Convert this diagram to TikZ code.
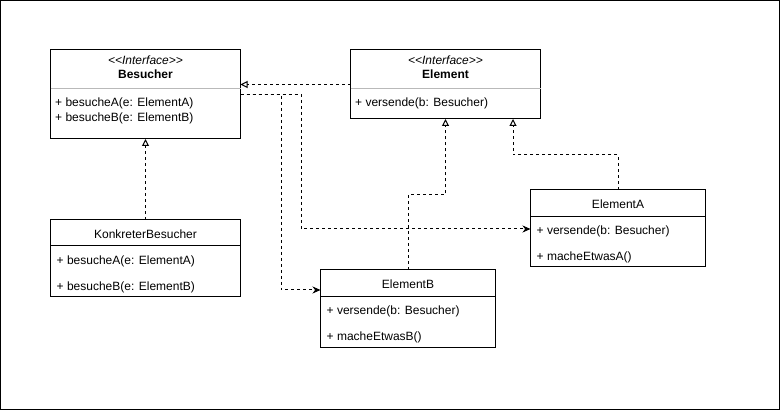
\documentclass[tikz,border=0pt]{standalone}
\usepackage{fontspec}
\setmainfont{Liberation Sans}
\usetikzlibrary{arrows.meta, positioning}
\tikzset{
  cls/.style    = {draw, line width=1pt, anchor=north west, inner sep=0pt,
                   outer sep=0pt},
  cwide/.style  = {cls, minimum width=190pt},
  cnarrow/.style= {cls, minimum width=175pt, minimum height=77pt},
  lbl/.style    = {inner sep=0pt, font=\fontsize{12}{14}\selectfont},
  ttl/.style    = {lbl, anchor=base},
  bttl/.style   = {ttl, font=\fontsize{12}{14}\selectfont\bfseries},
  stereo/.style = {ttl, font=\fontsize{12}{14}\selectfont\itshape},
  meth/.style   = {lbl, anchor=base west},
  gline/.style  = {line width=1pt, gray!55},
  bline/.style  = {line width=1pt},
  impl/.style   = {-{Triangle[open, length=7pt, width=7pt]}, line width=1pt,
                   dash pattern=on 3pt off 3pt},
  dep/.style    = {-{Stealth[length=8pt, width=7pt]}, line width=1pt,
                   dash pattern=on 3pt off 3pt}
}

\begin{document}
\begin{tikzpicture}[x=1pt, y=-1pt]
  \useasboundingbox (0,0) rectangle (781,411);
  \draw[bline] (0.5,0.5) rectangle (779.5,409.5);

  \node[cwide, minimum height=89pt] (bes)  at (50.5,50)  {};
  \node[cwide, minimum height=69pt] (elem) at (350.5,50) {};
  \node[cwide, minimum height=77pt] (kb)   at (50.5,220) {};
  \node[cnarrow] (eb) at (320.5,270) {};
  \node[cnarrow] (ea) at (530.5,190) {};

  \node[stereo] (besst) at (145.5,65) {<\kern0pt<Interface>\kern0pt>};
  \node[bttl]   (bestt) at (145.5,79) {Besucher};
  \draw[gline] (bes.west |- 0,89) -- (bes.east |- 0,89);
  \node[meth]   (besm1) at (55,107)   {+ besucheA(e: ElementA)};
  \node[meth]   (besm2) at (55,121.5) {+ besucheB(e: ElementB)};

  \node[stereo] (elst) at (445.5,65) {<\kern0pt<Interface>\kern0pt>};
  \node[bttl]   (eltt) at (445.5,79) {Element};
  \draw[gline] (elem.west |- 0,89) -- (elem.east |- 0,89);
  \node[meth]   (elm1) at (355,107)  {+ versende(b: Besucher)};

  \node[ttl]    (kbtt) at (145.5,238.5) {KonkreterBesucher};
  \draw[bline] (kb.west |- 0,246) -- (kb.east |- 0,246);
  \node[meth]   (kbm1) at (56.5,264.5) {+ besucheA(e: ElementA)};
  \node[meth]   (kbm2) at (56.5,291)   {+ besucheB(e: ElementB)};

  \node[ttl]    (ebtt) at (408,288.5) {ElementB};
  \draw[bline] (eb.west |- 0,296.5) -- (eb.east |- 0,296.5);
  \node[meth]   (ebm1) at (326.5,314.5) {+ versende(b: Besucher)};
  \node[meth]   (ebm2) at (326.5,341)   {+ macheEtwasB()};

  \node[ttl]    (eatt) at (618,208.5) {ElementA};
  \draw[bline] (ea.west |- 0,216.5) -- (ea.east |- 0,216.5);
  \node[meth]   (eam1) at (536.5,234.5) {+ versende(b: Besucher)};
  \node[meth]   (eam2) at (536.5,261)   {+ macheEtwasA()};

  \draw[impl] (elem.west) -- (bes.east |- elem.west);
  \draw[impl] (kb.north) -- (bes.south);
  \draw[impl] (eb.north) |- (445.5,195) -- (elem.south);
  \draw[impl] (ea.north) |- (513,155) -- (elem.south -| 513,0);
  \draw[dep]  (bes.east) -| (301,229) -- (ea.west |- 0,229);
  \draw[dep]  (bes.east) -| (281,290) -- (eb.west |- 0,290);
\end{tikzpicture}
\end{document}
